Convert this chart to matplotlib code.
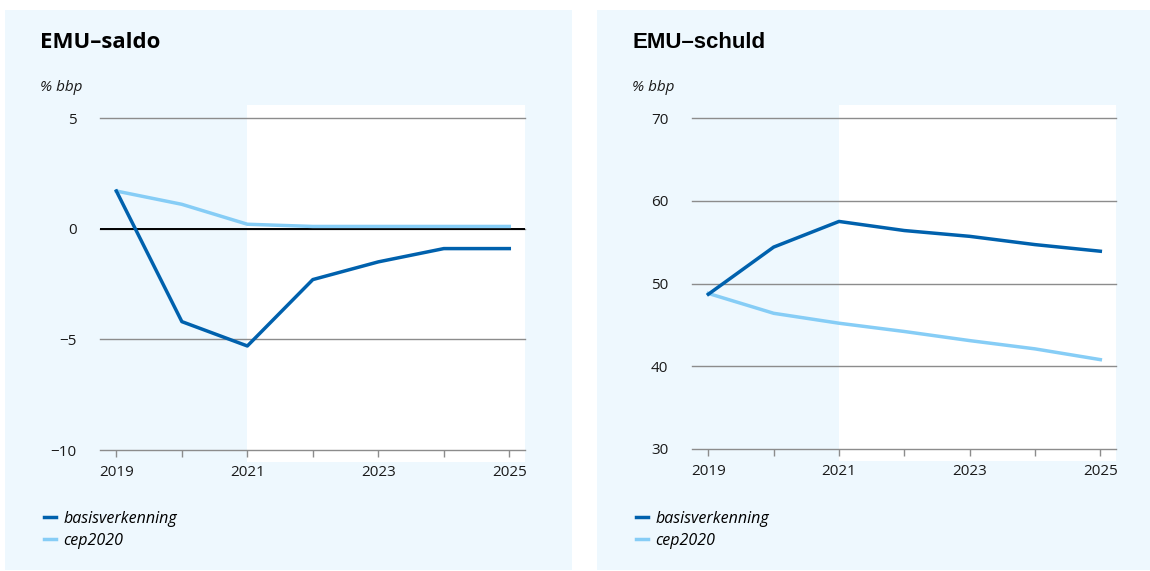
#
# emu_plot.py
#   - EMU-saldo en EMU-schuld, basisverkenning vs cep2020.
#

import matplotlib.pyplot as plt
from matplotlib.patches import Rectangle

years = [2019, 2020, 2021, 2022, 2023, 2024, 2025]
year_labels = ["2019", "", "2021", "", "2023", "", "2025"]

saldo_basis = [1.7, -4.2, -5.3, -2.3, -1.5, -0.9, -0.9]
saldo_cep = [1.7, 1.1, 0.2, 0.1, 0.1, 0.1, 0.1]

schuld_basis = [48.7, 54.4, 57.5, 56.4, 55.7, 54.7, 53.9]
schuld_cep = [48.8, 46.4, 45.2, 44.2, 43.1, 42.1, 40.8]

saldo_ticks = [-10, -5, 0, 5]
schuld_ticks = [30, 40, 50, 60, 70]

DARK = '#0061ad'
LIGHT = '#86cdf6'
PANEL = '#eef8fe'
GRID = '#8c8c8c'
TEXT = '#1a1a1a'
FONT = 'Open Sans'


def draw_panel(fig, rect, bg_rect, title, title_font, ticks, ylim, basis, cep, zero_line, legend_pos):
    # light blue panel behind everything
    fig.patches.append(Rectangle(bg_rect[:2], bg_rect[2], bg_rect[3], transform=fig.transFigure,
                                 facecolor=PANEL, edgecolor='none', zorder=-5))
    ax = fig.add_axes(rect)
    ax.patch.set_alpha(0)
    ax.set_xlim(2018.75, 2025.24)
    ax.set_ylim(*ylim)
    for s in ax.spines.values():
        s.set_visible(False)

    # white forecast area from 2021 on
    span = ylim[1] - ylim[0]
    ax.add_patch(Rectangle((2021, ylim[0] - 0.035 * span), 2025.24 - 2021, 1.075 * span,
                           facecolor='white', edgecolor='none', clip_on=False, zorder=0))

    for t in ticks:
        ax.axhline(t, color=GRID, lw=1.0, zorder=1, clip_on=False)
    if zero_line:
        ax.axhline(0, color='black', lw=1.4, zorder=1)

    l1, = ax.plot(years, cep, color=LIGHT, lw=2.5, zorder=3, label='cep2020', clip_on=False)
    l2, = ax.plot(years, basis, color=DARK, lw=2.5, zorder=4, label='basisverkenning', clip_on=False)

    ax.set_yticks(ticks)
    ax.set_yticklabels([str(t) if t >= 0 else '\u2212' + str(-t) for t in ticks],
                       fontsize=11, family=FONT, color=TEXT)
    ax.tick_params(axis='y', length=0, pad=17)
    ax.set_xticks(years)
    ax.set_xticklabels(year_labels, fontsize=11, family=FONT, color=TEXT)
    ax.tick_params(axis='x', length=5, width=1, color=GRID, pad=6)

    x0 = bg_rect[0] + 35 / 1150
    fig.text(x0, 1 - 43 / 571, title, fontsize=16, fontweight='bold', family=title_font,
             color='black', va='center')
    fig.text(x0, 1 - 88 / 571, '% bbp', fontsize=11, style='italic', family=FONT,
             color=TEXT, va='center')

    fig.legend([l2, l1], ['basisverkenning', 'cep2020'], loc='upper left',
               bbox_to_anchor=legend_pos, frameon=False, handlelength=0.75,
               handletextpad=0.45, labelspacing=0.35, borderpad=0, borderaxespad=0,
               prop={'family': FONT, 'style': 'italic', 'size': 11.5})
    return ax


def main():
    fig = plt.figure(figsize=(11.5, 5.71), dpi=100)
    fig.patch.set_facecolor('white')

    draw_panel(fig, [100 / 1150, 1 - 450 / 571, 425 / 1150, 332 / 571],
               [5 / 1150, 1 - 570 / 571, 567 / 1150, 560 / 571],
               'EMU\u2013saldo', FONT, saldo_ticks, (-10, 5),
               saldo_basis, saldo_cep, True, (44 / 1150, 1 - 511 / 571))

    draw_panel(fig, [692 / 1150, 1 - 449 / 571, 424 / 1150, 331 / 571],
               [597 / 1150, 1 - 570 / 571, 553 / 1150, 560 / 571],
               'EMU\u2013schuld', 'Liberation Sans', schuld_ticks, (30, 70),
               schuld_basis, schuld_cep, False, (636 / 1150, 1 - 511 / 571))

    plt.savefig('out.png', dpi=100, facecolor='white')


if __name__ == "__main__":
    main()
